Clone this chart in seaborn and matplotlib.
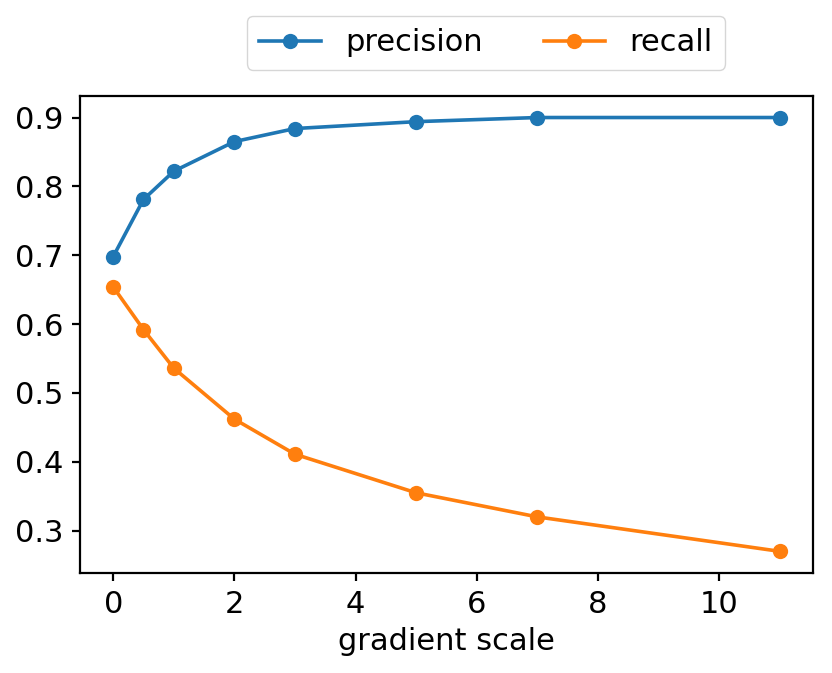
import matplotlib
matplotlib.use('Agg')
import matplotlib.pyplot as plt
import seaborn as sns
import pandas as pd

# values
gradient_scale = [0, 0.5, 1, 2, 3, 5, 7, 11]
precision = [0.698, 0.781, 0.822, 0.865, 0.884, 0.894, 0.900, 0.900]
recall = [0.654, 0.592, 0.536, 0.462, 0.411, 0.355, 0.320, 0.270]

df = pd.DataFrame({
    'gradient scale': gradient_scale * 2,
    'value': precision + recall,
    'metric': ['precision'] * len(precision) + ['recall'] * len(recall),
})

plt.rcParams['font.family'] = ['DejaVu Sans']
plt.rcParams['font.size'] = 22
plt.rcParams['axes.linewidth'] = 1.6

fig = plt.figure(figsize=(8.32, 6.73), dpi=100)
ax = fig.add_axes([0.096, 0.1486, 0.881, 0.709])

sns.lineplot(data=df, x='gradient scale', y='value', hue='metric',
             palette=['#1f77b4', '#ff7f0e'], marker='o', markersize=11,
             markeredgewidth=0, linewidth=2.6, ax=ax)

ax.set_xlabel('gradient scale', fontsize=22, labelpad=6)
ax.set_ylabel('')
ax.tick_params(labelsize=22, length=6, width=1.6, pad=6)
ax.set_xticks([0, 2, 4, 6, 8, 10])
ax.set_yticks([0.3, 0.4, 0.5, 0.6, 0.7, 0.8, 0.9])

ax.legend(loc='lower center', bbox_to_anchor=(0.554, 1.055), ncol=2,
          fontsize=22, borderaxespad=0.0, handlelength=2, columnspacing=2.0,
          title=None)

plt.savefig('out.png', dpi=100)
